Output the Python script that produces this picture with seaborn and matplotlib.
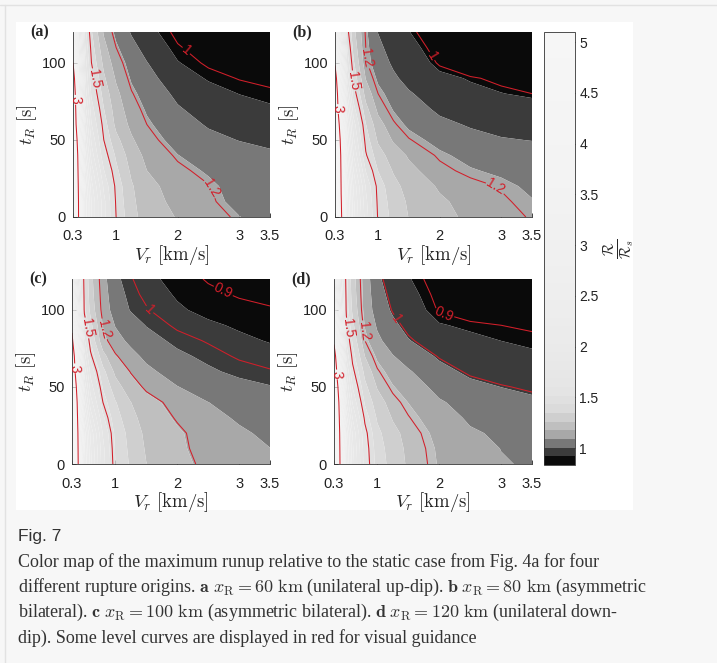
import numpy as np
import matplotlib
matplotlib.use("Agg")
import matplotlib.pyplot as plt
from matplotlib.colors import ListedColormap
from matplotlib.patches import Rectangle
from matplotlib.lines import Line2D
import seaborn as sns

# grid of the runup maps (rupture velocity in km/s, rise time in s)
vr = [0.3, 0.35, 0.4, 0.5, 0.6, 0.8, 1.0, 1.25, 1.5, 2.0, 2.5, 3.0, 3.5]
tr = [0, 10, 20, 30, 40, 50, 60, 70, 80, 90, 100, 110, 120]

# R / R_s, one row per rise time
runup_a = [
    [5.0, 3.6, 2.85, 2.3, 2.0, 1.7, 1.5, 1.38, 1.31, 1.265, 1.225, 1.19, 1.16],
    [4.9, 3.55, 2.85, 2.3, 2.0, 1.7, 1.49, 1.37, 1.3, 1.25, 1.21, 1.17, 1.14],
    [4.8, 3.5, 2.8, 2.25, 1.95, 1.66, 1.48, 1.36, 1.29, 1.24, 1.203, 1.16, 1.13],
    [4.7, 3.42, 2.75, 2.18, 1.88, 1.6, 1.45, 1.335, 1.27, 1.215, 1.18, 1.148, 1.125],
    [4.6, 3.35, 2.7, 2.1, 1.8, 1.54, 1.42, 1.31, 1.25, 1.19, 1.155, 1.135, 1.12],
    [4.45, 3.18, 2.62, 2.02, 1.74, 1.5, 1.375, 1.28, 1.222, 1.163, 1.127, 1.105, 1.09],
    [4.3, 3.0, 2.55, 1.95, 1.68, 1.47, 1.33, 1.25, 1.2, 1.14, 1.1, 1.075, 1.06],
    [4.0, 2.87, 2.45, 1.87, 1.63, 1.435, 1.31, 1.228, 1.18, 1.115, 1.075, 1.05, 1.035],
    [3.7, 2.75, 2.35, 1.8, 1.58, 1.4, 1.29, 1.205, 1.16, 1.09, 1.05, 1.025, 1.01],
    [3.3, 2.67, 2.27, 1.76, 1.54, 1.365, 1.26, 1.18, 1.135, 1.06, 1.02, 0.997, 0.985],
    [3.0, 2.6, 2.2, 1.72, 1.5, 1.33, 1.23, 1.16, 1.11, 1.03, 0.99, 0.97, 0.96],
    [2.85, 2.5, 2.12, 1.67, 1.47, 1.295, 1.2, 1.13, 1.08, 1.005, 0.973, 0.958, 0.952],
    [2.7, 2.4, 2.05, 1.62, 1.44, 1.26, 1.17, 1.1, 1.05, 0.985, 0.96, 0.95, 0.945],
]
runup_b = [
    [5.1, 3.9, 3.05, 2.4, 2.05, 1.72, 1.49, 1.4, 1.34, 1.28, 1.245, 1.22, 1.195],
    [5.0, 3.85, 3.02, 2.38, 2.03, 1.7, 1.48, 1.39, 1.33, 1.27, 1.235, 1.21, 1.18],
    [4.9, 3.8, 2.98, 2.35, 2.0, 1.67, 1.47, 1.37, 1.31, 1.25, 1.22, 1.195, 1.16],
    [4.8, 3.7, 2.94, 2.28, 1.93, 1.59, 1.425, 1.335, 1.28, 1.218, 1.183, 1.16, 1.14],
    [4.7, 3.6, 2.9, 2.2, 1.85, 1.51, 1.38, 1.3, 1.25, 1.19, 1.15, 1.125, 1.12],
    [4.55, 3.38, 2.83, 2.12, 1.78, 1.47, 1.33, 1.25, 1.205, 1.148, 1.115, 1.097, 1.09],
    [4.4, 3.15, 2.75, 2.05, 1.72, 1.43, 1.29, 1.21, 1.16, 1.11, 1.085, 1.07, 1.06],
    [4.0, 2.98, 2.62, 1.95, 1.63, 1.37, 1.24, 1.17, 1.128, 1.078, 1.05, 1.037, 1.03],
    [3.6, 2.85, 2.5, 1.85, 1.55, 1.31, 1.2, 1.14, 1.1, 1.05, 1.02, 1.01, 1.0],
    [3.25, 2.72, 2.38, 1.74, 1.49, 1.255, 1.16, 1.105, 1.068, 1.02, 1.005, 0.99, 0.98],
    [2.95, 2.6, 2.25, 1.65, 1.44, 1.21, 1.13, 1.08, 1.04, 0.995, 0.96, 0.945, 0.94],
    [2.8, 2.45, 2.12, 1.59, 1.4, 1.2, 1.11, 1.06, 1.025, 0.982, 0.95, 0.937, 0.932],
    [2.65, 2.3, 2.0, 1.53, 1.37, 1.19, 1.09, 1.04, 1.01, 0.97, 0.94, 0.93, 0.925],
]
runup_c = [
    [5.1, 3.8, 3.0, 2.35, 2.0, 1.66, 1.46, 1.36, 1.29, 1.23, 1.18, 1.15, 1.13],
    [5.0, 3.75, 2.97, 2.32, 1.98, 1.65, 1.45, 1.35, 1.28, 1.22, 1.17, 1.14, 1.12],
    [4.9, 3.7, 2.93, 2.28, 1.95, 1.62, 1.44, 1.34, 1.27, 1.215, 1.165, 1.13, 1.105],
    [4.75, 3.6, 2.84, 2.16, 1.85, 1.56, 1.41, 1.315, 1.253, 1.193, 1.142, 1.11, 1.087],
    [4.6, 3.5, 2.75, 2.05, 1.75, 1.5, 1.38, 1.29, 1.235, 1.17, 1.12, 1.09, 1.07],
    [4.35, 3.25, 2.62, 1.95, 1.67, 1.45, 1.325, 1.24, 1.185, 1.122, 1.08, 1.055, 1.038],
    [4.0, 3.0, 2.5, 1.85, 1.6, 1.4, 1.27, 1.195, 1.14, 1.08, 1.045, 1.02, 1.005],
    [3.55, 2.82, 2.38, 1.75, 1.52, 1.32, 1.21, 1.145, 1.1, 1.048, 1.02, 0.993, 0.975],
    [3.1, 2.65, 2.25, 1.65, 1.45, 1.23, 1.15, 1.1, 1.06, 1.02, 0.995, 0.965, 0.945],
    [2.9, 2.5, 2.12, 1.56, 1.4, 1.2, 1.115, 1.065, 1.032, 0.99, 0.962, 0.94, 0.925],
    [2.7, 2.35, 2.0, 1.48, 1.35, 1.17, 1.08, 1.03, 1.005, 0.96, 0.93, 0.915, 0.905],
    [2.55, 2.22, 1.92, 1.47, 1.33, 1.16, 1.065, 1.017, 0.987, 0.942, 0.912, 0.895, 0.885],
    [2.4, 2.1, 1.85, 1.46, 1.32, 1.15, 1.05, 1.005, 0.97, 0.925, 0.895, 0.875, 0.865],
]
runup_d = [
    [5.1, 3.7, 2.95, 2.25, 1.9, 1.56, 1.4, 1.31, 1.25, 1.17, 1.12, 1.095, 1.085],
    [5.0, 3.65, 2.92, 2.22, 1.88, 1.55, 1.39, 1.3, 1.245, 1.165, 1.115, 1.09, 1.08],
    [4.9, 3.6, 2.88, 2.18, 1.85, 1.53, 1.37, 1.285, 1.235, 1.15, 1.1, 1.08, 1.07],
    [4.7, 3.5, 2.8, 2.07, 1.77, 1.48, 1.335, 1.255, 1.205, 1.125, 1.08, 1.057, 1.045],
    [4.5, 3.4, 2.7, 1.95, 1.68, 1.42, 1.3, 1.225, 1.175, 1.1, 1.06, 1.035, 1.02],
    [4.2, 3.15, 2.58, 1.86, 1.6, 1.37, 1.255, 1.182, 1.137, 1.065, 1.025, 1.005, 0.99],
    [3.8, 2.9, 2.45, 1.78, 1.53, 1.32, 1.21, 1.14, 1.1, 1.03, 0.99, 0.97, 0.955],
    [3.3, 2.7, 2.3, 1.67, 1.47, 1.26, 1.16, 1.095, 1.055, 0.995, 0.96, 0.943, 0.93],
    [2.9, 2.5, 2.15, 1.58, 1.42, 1.2, 1.11, 1.05, 1.01, 0.96, 0.935, 0.92, 0.91],
    [2.7, 2.37, 2.05, 1.53, 1.37, 1.17, 1.08, 1.022, 0.982, 0.925, 0.91, 0.9, 0.893],
    [2.55, 2.25, 1.95, 1.48, 1.33, 1.15, 1.05, 0.995, 0.955, 0.895, 0.87, 0.855, 0.85],
    [2.42, 2.15, 1.87, 1.47, 1.31, 1.145, 1.035, 0.98, 0.94, 0.885, 0.86, 0.847, 0.842],
    [2.3, 2.05, 1.8, 1.46, 1.3, 1.14, 1.02, 0.965, 0.925, 0.875, 0.85, 0.84, 0.835],
]

red_levels_ab = [1, 1.2, 1.5, 3]
red_levels_cd = [0.9, 1, 1.2, 1.5, 3]
panel_tags = ["(a)", "(b)", "(c)", "(d)"]
vr_ticks = [0.3, 1, 2, 3, 3.5]
vr_ticklabels = ["0.3", "1", "2", "3", "3.5"]
tr_ticks = [0, 50, 100]
cbar_ticks = [1, 1.5, 2, 2.5, 3, 3.5, 4, 4.5, 5]

caption_title = "Fig. 7"
caption_lines = [
    "Color map of the maximum runup relative to the static case from Fig. 4a for four",
    r"different rupture origins. $\mathbf{a}$ $x_\mathrm{R} = 60\ \mathrm{km}$ (unilateral up-dip). "
    r"$\mathbf{b}$ $x_\mathrm{R} = 80\ \mathrm{km}$ (asymmetric",
    r"bilateral). $\mathbf{c}$ $x_\mathrm{R} = 100\ \mathrm{km}$ (asymmetric bilateral). "
    r"$\mathbf{d}$ $x_\mathrm{R} = 120\ \mathrm{km}$ (unilateral down-",
    "dip). Some level curves are displayed in red for visual guidance",
]

sns.set_theme(style="ticks")
plt.rcParams["font.family"] = ["Liberation Sans", "DejaVu Sans"]
plt.rcParams["mathtext.fontset"] = "cm"

W, H = 717, 663
fig = plt.figure(figsize=(W / 100, H / 100), dpi=100, facecolor="#f7f7f7")
fig.patches.append(Rectangle((16 / W, 1 - 510 / H), 617 / W, 488 / H, transform=fig.transFigure,
                             facecolor="white", edgecolor="none", zorder=-10))
fig.add_artist(Line2D([0, 1], [1 - 4.5 / H] * 2, color="#e2e2e2", lw=1, zorder=-10))
fig.add_artist(Line2D([5 / W] * 2, [0, 1 - 4.5 / H], color="#e2e2e2", lw=1, zorder=-10))


def px_box(l, t, r, b):
    return [l / W, 1 - b / H, (r - l) / W, (b - t) / H]


# gray ramp, very dark only in the lowest few bands
band_idx = [0, 1, 2, 3, 4, 5, 6, 7, 8, 12, 20, 30, 49]
band_gray = [0.04, 0.23, 0.47, 0.66, 0.75, 0.81, 0.86, 0.88, 0.895, 0.915, 0.935, 0.95, 0.965]
grays = np.interp(np.arange(50), band_idx, band_gray)
cmap = ListedColormap([(g, g, g) for g in grays])

red = "#d21f2a"
panels = [
    (runup_a, red_levels_ab, px_box(73, 32, 270, 217),
     [(2.12, 107), (2.57, 19), (0.55, 89), (0.31, 76)]),
    (runup_b, red_levels_ab, px_box(335, 32, 532, 217),
     [(1.9, 105), (0.83, 103), (2.92, 20), (0.57, 88), (0.31, 70)]),
    (runup_c, red_levels_cd, px_box(72, 279, 270, 464),
     [(2.73, 111), (1.55, 100), (0.77, 87), (0.5, 88), (0.31, 62)]),
    (runup_d, red_levels_cd, px_box(334, 279, 532, 464),
     [(2.12, 103), (1.27, 93), (0.72, 86), (0.5, 88), (0.31, 58)]),
]

last_cf = None
for (runup, red_levels, box, lab_pos), tag in zip(panels, panel_tags):
    ax = fig.add_axes(box)
    z = np.array(runup)
    levels = np.linspace(z.min(), z.max(), 51)
    cf = ax.contourf(vr, tr, z, levels=levels, cmap=cmap, antialiased=True)
    cs = ax.contour(vr, tr, z, levels=red_levels, colors=red, linewidths=0.75)
    ax.clabel(cs, fmt="%g", inline=True, inline_spacing=1, fontsize=10, manual=lab_pos)
    ax.set_xlim(0.3, 3.5)
    ax.set_ylim(0, 120)
    ax.set_xticks(vr_ticks)
    ax.set_xticklabels(vr_ticklabels)
    ax.set_yticks(tr_ticks)
    ax.tick_params(direction="in", length=3, width=0.6, labelsize=10.5, colors="#222222")
    ax.tick_params(axis="x", pad=9)
    ax.tick_params(axis="y", pad=5)
    sns.despine(ax=ax)
    for s in ["left", "bottom"]:
        ax.spines[s].set_linewidth(0.6)
        ax.spines[s].set_color("#333333")
    ax.set_xlabel(r"$V_r\ [\mathrm{km/s}]$", fontsize=13.5, labelpad=0)
    ax.set_ylabel(r"$t_R\ [\mathrm{s}]$", fontsize=13.5, labelpad=2)
    pos = ax.get_position()
    fig.text(pos.x0 - 43 / W, pos.y1, tag, fontsize=11.5, fontweight="bold",
             family="Liberation Serif", va="center", ha="left")
    last_cf = cf

cax = fig.add_axes(px_box(544, 32, 575, 465))
cb = fig.colorbar(last_cf, cax=cax, ticks=cbar_ticks)
cb.ax.set_yticklabels([f"{t:g}" for t in cbar_ticks])
cb.ax.tick_params(direction="in", length=4, width=0.6, labelsize=10, pad=3, colors="#222222")
cb.outline.set_linewidth(0.6)
cb.outline.set_edgecolor("#333333")
cb.ax.set_ylabel(r"$\frac{\mathcal{R}}{\mathcal{R}_s}$", fontsize=15, rotation=90, labelpad=2)

fig.text(18 / W, 1 - 537 / H, caption_title, fontsize=12.5, color="#333333",
         family=["Liberation Sans Narrow", "Liberation Sans"], va="center")
for i, line in enumerate(caption_lines):
    fig.text(18 / W, 1 - (562 + 25.3 * i) / H, line, fontsize=13, color="#333333",
             family="Liberation Serif", math_fontfamily="cm", va="center")

fig.savefig("out.png", dpi=100, facecolor=fig.get_facecolor())
